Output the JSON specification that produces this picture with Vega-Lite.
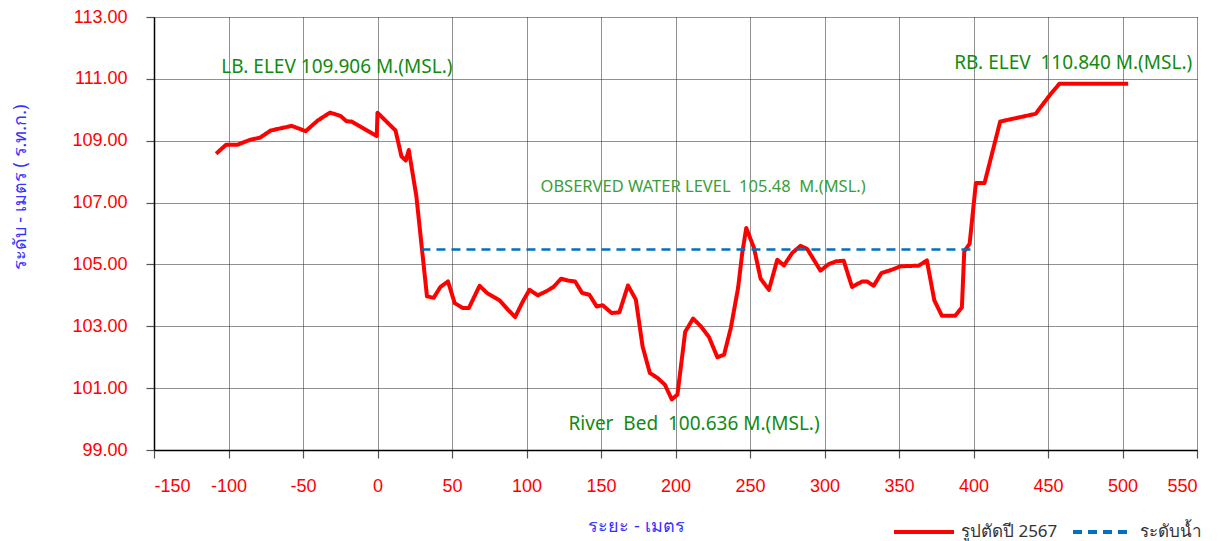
{
  "$schema": "https://vega.github.io/schema/vega-lite/v6.json",
  "autosize": {"type": "none"},
  "padding": {"left": 154, "top": 17, "right": 24, "bottom": 91},
  "width": 1043,
  "height": 433,
  "background": "white",
  "config": {
    "view": {"stroke": null},
    "axis": {
      "labelFont": "Liberation Sans",
      "labelFontSize": 18,
      "labelColor": "#ff0000",
      "grid": true,
      "gridColor": "#222222",
      "gridDash": [1, 1],
      "gridWidth": 1,
      "gridOpacity": 1,
      "domainColor": "#000000",
      "domainWidth": 1.5,
      "tickColor": "#555555",
      "tickSize": 8,
      "tickWidth": 1.2,
      "titleFont": "Noto Sans",
      "titleFontSize": 18,
      "titleFontWeight": "normal",
      "titleColor": "#3333ff"
    }
  },
  "datasets": {
    "profile": [
      {"x": -108.3, "y": 108.58, "s": "รูปตัดปี 2567"},
      {"x": -101.6, "y": 108.87, "s": "รูปตัดปี 2567"},
      {"x": -94.0, "y": 108.87, "s": "รูปตัดปี 2567"},
      {"x": -85.5, "y": 109.03, "s": "รูปตัดปี 2567"},
      {"x": -78.8, "y": 109.1, "s": "รูปตัดปี 2567"},
      {"x": -71.7, "y": 109.33, "s": "รูปตัดปี 2567"},
      {"x": -57.6, "y": 109.48, "s": "รูปตัดปี 2567"},
      {"x": -48.2, "y": 109.31, "s": "รูปตัดปี 2567"},
      {"x": -40.2, "y": 109.65, "s": "รูปตัดปี 2567"},
      {"x": -31.9, "y": 109.91, "s": "รูปตัดปี 2567"},
      {"x": -24.8, "y": 109.8, "s": "รูปตัดปี 2567"},
      {"x": -20.8, "y": 109.63, "s": "รูปตัดปี 2567"},
      {"x": -17.4, "y": 109.62, "s": "รูปตัดปี 2567"},
      {"x": -0.5, "y": 109.15, "s": "รูปตัดปี 2567"},
      {"x": 0, "y": 109.906, "s": "รูปตัดปี 2567"},
      {"x": 12.1, "y": 109.33, "s": "รูปตัดปี 2567"},
      {"x": 16.1, "y": 108.49, "s": "รูปตัดปี 2567"},
      {"x": 19.0, "y": 108.36, "s": "รูปตัดปี 2567"},
      {"x": 21.0, "y": 108.7, "s": "รูปตัดปี 2567"},
      {"x": 26.1, "y": 107.2, "s": "รูปตัดปี 2567"},
      {"x": 33.2, "y": 103.97, "s": "รูปตัดปี 2567"},
      {"x": 37.7, "y": 103.92, "s": "รูปตัดปี 2567"},
      {"x": 42.2, "y": 104.27, "s": "รูปตัดปี 2567"},
      {"x": 47.3, "y": 104.45, "s": "รูปตัดปี 2567"},
      {"x": 51.8, "y": 103.75, "s": "รูปตัดปี 2567"},
      {"x": 57.3, "y": 103.59, "s": "รูปตัดปี 2567"},
      {"x": 61.3, "y": 103.59, "s": "รูปตัดปี 2567"},
      {"x": 68.5, "y": 104.31, "s": "รูปตัดปี 2567"},
      {"x": 73.4, "y": 104.08, "s": "รูปตัดปี 2567"},
      {"x": 81.9, "y": 103.84, "s": "รูปตัดปี 2567"},
      {"x": 87.5, "y": 103.54, "s": "รูปตัดปี 2567"},
      {"x": 92.4, "y": 103.3, "s": "รูปตัดปี 2567"},
      {"x": 97.5, "y": 103.8, "s": "รูปตัดปี 2567"},
      {"x": 102.0, "y": 104.18, "s": "รูปตัดปี 2567"},
      {"x": 107.6, "y": 104.0, "s": "รูปตัดปี 2567"},
      {"x": 113.2, "y": 104.13, "s": "รูปตัดปี 2567"},
      {"x": 118.1, "y": 104.27, "s": "รูปตัดปี 2567"},
      {"x": 123.2, "y": 104.54, "s": "รูปตัดปี 2567"},
      {"x": 127.7, "y": 104.48, "s": "รูปตัดปี 2567"},
      {"x": 132.6, "y": 104.45, "s": "รูปตัดปี 2567"},
      {"x": 137.3, "y": 104.08, "s": "รูปตัดปี 2567"},
      {"x": 142.2, "y": 104.02, "s": "รูปตัดปี 2567"},
      {"x": 147.1, "y": 103.64, "s": "รูปตัดปี 2567"},
      {"x": 151.1, "y": 103.68, "s": "รูปตัดปี 2567"},
      {"x": 157.1, "y": 103.43, "s": "รูปตัดปี 2567"},
      {"x": 162.3, "y": 103.45, "s": "รูปตัดปี 2567"},
      {"x": 168.1, "y": 104.32, "s": "รูปตัดปี 2567"},
      {"x": 173.4, "y": 103.86, "s": "รูปตัดปี 2567"},
      {"x": 177.9, "y": 102.35, "s": "รูปตัดปี 2567"},
      {"x": 182.8, "y": 101.49, "s": "รูปตัดปี 2567"},
      {"x": 187.9, "y": 101.33, "s": "รูปตัดปี 2567"},
      {"x": 192.9, "y": 101.11, "s": "รูปตัดปี 2567"},
      {"x": 197.5, "y": 100.636, "s": "รูปตัดปี 2567"},
      {"x": 201.3, "y": 100.79, "s": "รูปตัดปี 2567"},
      {"x": 206.5, "y": 102.82, "s": "รูปตัดปี 2567"},
      {"x": 211.8, "y": 103.25, "s": "รูปตัดปี 2567"},
      {"x": 217.0, "y": 103.0, "s": "รูปตัดปี 2567"},
      {"x": 222.5, "y": 102.65, "s": "รูปตัดปี 2567"},
      {"x": 228.1, "y": 102.0, "s": "รูปตัดปี 2567"},
      {"x": 232.6, "y": 102.08, "s": "รูปตัดปี 2567"},
      {"x": 237.1, "y": 102.94, "s": "รูปตัดปี 2567"},
      {"x": 242.0, "y": 104.24, "s": "รูปตัดปี 2567"},
      {"x": 244.8, "y": 105.37, "s": "รูปตัดปี 2567"},
      {"x": 247.5, "y": 106.18, "s": "รูปตัดปี 2567"},
      {"x": 252.7, "y": 105.53, "s": "รูปตัดปี 2567"},
      {"x": 257.1, "y": 104.54, "s": "รูปตัดปี 2567"},
      {"x": 262.7, "y": 104.18, "s": "รูปตัดปี 2567"},
      {"x": 268.3, "y": 105.15, "s": "รูปตัดปี 2567"},
      {"x": 272.8, "y": 104.97, "s": "รูปตัดปี 2567"},
      {"x": 278.3, "y": 105.37, "s": "รูปตัดปี 2567"},
      {"x": 283.9, "y": 105.6, "s": "รูปตัดปี 2567"},
      {"x": 288.4, "y": 105.5, "s": "รูปตัดปี 2567"},
      {"x": 297.3, "y": 104.8, "s": "รูปตัดปี 2567"},
      {"x": 302.9, "y": 105.01, "s": "รูปตัดปี 2567"},
      {"x": 307.8, "y": 105.1, "s": "รูปตัดปี 2567"},
      {"x": 312.9, "y": 105.12, "s": "รูปตัดปี 2567"},
      {"x": 318.5, "y": 104.27, "s": "รูปตัดปี 2567"},
      {"x": 325.2, "y": 104.45, "s": "รูปตัดปี 2567"},
      {"x": 328.5, "y": 104.45, "s": "รูปตัดปี 2567"},
      {"x": 333.0, "y": 104.31, "s": "รูปตัดปี 2567"},
      {"x": 338.2, "y": 104.72, "s": "รูปตัดปี 2567"},
      {"x": 345.3, "y": 104.83, "s": "รูปตัดปี 2567"},
      {"x": 350.9, "y": 104.94, "s": "รูปตัดปี 2567"},
      {"x": 363.2, "y": 104.96, "s": "รูปตัดปี 2567"},
      {"x": 368.7, "y": 105.13, "s": "รูปตัดปี 2567"},
      {"x": 373.7, "y": 103.84, "s": "รูปตัดปี 2567"},
      {"x": 378.8, "y": 103.34, "s": "รูปตัดปี 2567"},
      {"x": 387.7, "y": 103.34, "s": "รูปตัดปี 2567"},
      {"x": 392.2, "y": 103.61, "s": "รูปตัดปี 2567"},
      {"x": 393.8, "y": 105.42, "s": "รูปตัดปี 2567"},
      {"x": 397.4, "y": 105.67, "s": "รูปตัดปี 2567"},
      {"x": 401.6, "y": 107.63, "s": "รูปตัดปี 2567"},
      {"x": 407.4, "y": 107.63, "s": "รูปตัดปี 2567"},
      {"x": 417.9, "y": 109.62, "s": "รูปตัดปี 2567"},
      {"x": 441.7, "y": 109.87, "s": "รูปตัดปี 2567"},
      {"x": 451.3, "y": 110.48, "s": "รูปตัดปี 2567"},
      {"x": 457.6, "y": 110.84, "s": "รูปตัดปี 2567"},
      {"x": 503.8, "y": 110.84, "s": "รูปตัดปี 2567"},
      {"x": 29.5, "y": 105.48, "s": "ระดับน้ำ"},
      {"x": 401.6, "y": 105.48, "s": "ระดับน้ำ"}
    ],
    "labels": [
      {"x": -104.9, "y": 111.39, "text": "LB. ELEV 109.906 M.(MSL.)", "kind": "main"},
      {"x": 387.0, "y": 111.52, "text": "RB. ELEV \u00a0110.840 M.(MSL.)", "kind": "main"},
      {"x": 128.2, "y": 99.85, "text": "River \u00a0Bed \u00a0100.636 M.(MSL.)", "kind": "main"},
      {"x": 109.4, "y": 107.51, "text": "OBSERVED WATER LEVEL \u00a0105.48 \u00a0M.(MSL.)", "kind": "obs"}
    ]
  },
  "layer": [
    {
      "data": {"name": "profile"},
      "mark": {"type": "line", "strokeJoin": "round", "strokeCap": "butt"},
      "encoding": {
        "x": {
          "field": "x", "type": "quantitative",
          "scale": {"domain": [-150, 550], "nice": false, "zero": false},
          "axis": {"values": [-150, -100, -50, 0, 50, 100, 150, 200, 250, 300, 350, 400, 450, 500, 550], "labelExpr": "replace(datum.label, '\u2212', '-')", "labelPadding": 19, "title": "ระยะ - เมตร", "titleX": 482, "titleY": 76, "titleBaseline": "middle", "titleAnchor": "start", "titleAlign": "center"}
        },
        "y": {
          "field": "y", "type": "quantitative",
          "scale": {"domain": [99, 113], "nice": false, "zero": false},
          "axis": {"values": [99, 101, 103, 105, 107, 109, 111, 113], "format": ".2f", "labelPadding": 19, "title": "ระดับ - เมตร ( ร.ท.ก.)", "titleX": -134, "titleY": 170, "titleAngle": -90, "titleBaseline": "middle", "titleAlign": "center", "titleAnchor": "start"}
        },
        "color": {
          "field": "s", "type": "nominal",
          "scale": {"domain": ["รูปตัดปี 2567", "ระดับน้ำ"], "range": ["#ff0000", "#0070c0"]},
          "legend": {"orient": "none", "legendX": 738, "legendY": 483, "direction": "horizontal", "title": null, "symbolType": "stroke", "symbolSize": 3600, "symbolStrokeWidth": 4, "labelFont": "Noto Sans", "labelFontSize": 17, "labelColor": "#333333", "columnPadding": 7, "labelOffset": 5}
        },
        "strokeDash": {
          "field": "s", "type": "nominal",
          "scale": {"domain": ["รูปตัดปี 2567", "ระดับน้ำ"], "range": [[1, 0], [9, 6]]},
          "legend": {"orient": "none", "legendX": 738, "legendY": 483, "direction": "horizontal", "title": null, "symbolType": "stroke", "symbolSize": 3600, "symbolStrokeWidth": 4, "labelFont": "Noto Sans", "labelFontSize": 17, "labelColor": "#333333", "columnPadding": 7, "labelOffset": 5}
        },
        "strokeWidth": {
          "condition": {"test": "datum.s === 'ระดับน้ำ'", "value": 2.5},
          "value": 4
        }
      }
    },
    {
      "data": {"name": "labels"},
      "transform": [{"filter": "datum.kind === 'main'"}],
      "mark": {"type": "text", "align": "left", "baseline": "middle", "font": "Noto Sans", "fontSize": 19, "color": "#118a11"},
      "encoding": {
        "x": {"field": "x", "type": "quantitative"},
        "y": {"field": "y", "type": "quantitative"},
        "text": {"field": "text"}
      }
    },
    {
      "data": {"name": "labels"},
      "transform": [{"filter": "datum.kind === 'obs'"}],
      "mark": {"type": "text", "align": "left", "baseline": "middle", "font": "Noto Sans", "fontSize": 16.5, "color": "#3a9e3a"},
      "encoding": {
        "x": {"field": "x", "type": "quantitative"},
        "y": {"field": "y", "type": "quantitative"},
        "text": {"field": "text"}
      }
    }
  ]
}
